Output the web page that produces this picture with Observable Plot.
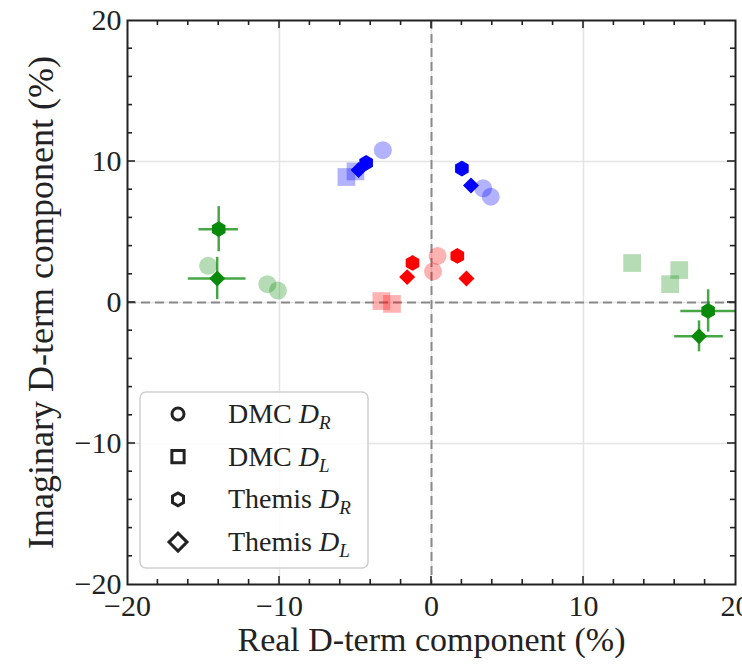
<!DOCTYPE html>
<html><head><meta charset="utf-8">
<script src="https://cdn.jsdelivr.net/npm/d3@7"></script>
<script src="https://cdn.jsdelivr.net/npm/@observablehq/plot@0.6"></script>
<style>body{margin:0;background:#fff}</style>
</head><body><div id="chart"></div>
<script>
// ---- data ----
const stationColors = {blue: "#0000ff", red: "#ff0000", green: "#0a8a0a"};

const dmcDR = [
  {c: "blue", x: -3.2, y: 10.8}, {c: "blue", x: 3.4, y: 8.1}, {c: "blue", x: 3.9, y: 7.5},
  {c: "red", x: 0.4, y: 3.3}, {c: "red", x: 0.1, y: 2.2},
  {c: "green", x: -14.7, y: 2.6}, {c: "green", x: -10.8, y: 1.3}, {c: "green", x: -10.1, y: 0.85}
];
const dmcDL = [
  {c: "blue", x: -5.6, y: 8.9}, {c: "blue", x: -5.0, y: 9.3},
  {c: "red", x: -3.3, y: 0.1}, {c: "red", x: -2.6, y: -0.1},
  {c: "green", x: 13.2, y: 2.8}, {c: "green", x: 16.3, y: 2.3}, {c: "green", x: 15.7, y: 1.3}
];
const themisDR = [
  {c: "blue", x: -4.3, y: 9.9, ex: 0.4, ey: 0.4}, {c: "blue", x: 2.0, y: 9.5, ex: 0.4, ey: 0.5},
  {c: "red", x: -1.25, y: 2.8, ex: 0.4, ey: 0.5}, {c: "red", x: 1.7, y: 3.3, ex: 0.4, ey: 0.4},
  {c: "green", x: -14.0, y: 5.2, ex: 1.3, ey: 1.6}, {c: "green", x: 18.2, y: -0.6, ex: 1.8, ey: 1.5}
];
const themisDL = [
  {c: "blue", x: -4.8, y: 9.4, ex: 0.4, ey: 0.4}, {c: "blue", x: 2.6, y: 8.3, ex: 0.4, ey: 0.4},
  {c: "red", x: -1.6, y: 1.8, ex: 0.4, ey: 0.4}, {c: "red", x: 2.3, y: 1.7, ex: 0.4, ey: 0.4},
  {c: "green", x: -14.1, y: 1.7, ex: 1.9, ey: 1.5}, {c: "green", x: 17.6, y: -2.4, ex: 1.6, ey: 1.1}
];
const xMajor = [-20, -10, 0, 10, 20];
const yMajor = [-20, -10, 0, 10, 20];
const minorTicks = [-18, -16, -14, -12, -8, -6, -4, -2, 2, 4, 6, 8, 12, 14, 16, 18];
const gridTicks = [-10, 0, 10];
const xLabel = "Real D-term component (%)";
const yLabel = "Imaginary D-term component (%)";
const legendItems = [
  {sym: "circle", main: "DMC ", sub: "R"},
  {sym: "square", main: "DMC ", sub: "L"},
  {sym: "hexagon", main: "Themis ", sub: "R"},
  {sym: "diamond", main: "Themis ", sub: "L"}
];

const themisAll = themisDR.concat(themisDL);
const fill = d => stationColors[d.c];
const fmt = d => d < 0 ? "\u2212" + Math.abs(d) : String(d);
const FONT = "'Liberation Serif', 'DejaVu Serif', serif";
const INK = "#222";

const fig = Plot.plot({
  width: 742, height: 667,
  marginLeft: 127, marginRight: 7, marginTop: 20, marginBottom: 83,
  style: {fontFamily: FONT, fontSize: "30px", color: INK, background: "#fff"},
  x: {domain: [-20, 20], ticks: xMajor, tickSize: 0, tickPadding: 10, tickFormat: fmt, label: null},
  y: {domain: [-20, 20], ticks: yMajor, tickSize: 0, tickPadding: 6, tickFormat: fmt, label: null},
  marks: [
    Plot.ruleX(gridTicks, {stroke: "#e4e4e4", strokeWidth: 1.5}),
    Plot.ruleY(gridTicks, {stroke: "#e4e4e4", strokeWidth: 1.5}),
    Plot.ruleX([0], {stroke: "#8a8a8a", strokeWidth: 2, strokeDasharray: "9,5"}),
    Plot.ruleY([0], {stroke: "#8a8a8a", strokeWidth: 2, strokeDasharray: "9,5"}),
    Plot.dot(dmcDR, {x: "x", y: "y", r: 9, symbol: "circle", fill, fillOpacity: 0.3, stroke: null}),
    Plot.dot(dmcDL, {x: "x", y: "y", r: 10, symbol: "square", fill, fillOpacity: 0.3, stroke: null}),
    Plot.ruleY(themisAll, {y: "y", x1: d => d.x - d.ex, x2: d => d.x + d.ex, stroke: fill, strokeWidth: 2.5, strokeOpacity: 0.75}),
    Plot.ruleX(themisAll, {x: "x", y1: d => d.y - d.ey, y2: d => d.y + d.ey, stroke: fill, strokeWidth: 2.5, strokeOpacity: 0.75}),
    Plot.dot(themisDR, {x: "x", y: "y", r: 6.8, symbol: "hexagon", fill, stroke: null}),
    Plot.dot(themisDL, {x: "x", y: "y", r: 7.2, symbol: "diamond2", fill, stroke: null}),
    Plot.frame({stroke: INK, strokeWidth: 2}),
    Plot.text([xLabel], {frameAnchor: "bottom", dy: 66, fontSize: 34, fill: INK, textAnchor: "middle"}),
    Plot.text([yLabel], {frameAnchor: "left", dx: -86, rotate: -90, fontSize: 36, fill: INK, textAnchor: "middle"})
  ]
});

const svg = d3.select(fig);
const sx = fig.scale("x"), sy = fig.scale("y");
const X0 = sx.apply(-20), X1 = sx.apply(20), Y0 = sy.apply(-20), Y1 = sy.apply(20);
const tg = svg.append("g").attr("stroke", INK).attr("stroke-width", 1.6);
const tickSets = [[minorTicks, 5], [xMajor.slice(1, -1), 8]];
for (const [vals, len] of tickSets) {
  for (const v of vals) {
    const px = sx.apply(v), py = sy.apply(v);
    tg.append("line").attr("x1", px).attr("x2", px).attr("y1", Y0).attr("y2", Y0 - len);
    tg.append("line").attr("x1", px).attr("x2", px).attr("y1", Y1).attr("y2", Y1 + len);
    tg.append("line").attr("y1", py).attr("y2", py).attr("x1", X0).attr("x2", X0 + len);
    tg.append("line").attr("y1", py).attr("y2", py).attr("x1", X1).attr("x2", X1 - len);
  }
}

// legend
const lg = svg.append("g").attr("text-anchor", "start");
lg.append("rect").attr("x", 140).attr("y", 392).attr("width", 228).attr("height", 176)
  .attr("rx", 6).attr("fill", "#fff").attr("fill-opacity", 0.85).attr("stroke", "#cfcfcf").attr("stroke-width", 1.5);
const hexPath = r => {
  const ry = r * 1.1547, hy = ry / 2;
  return `M0,${-ry}L${r},${-hy}L${r},${hy}L0,${ry}L${-r},${hy}L${-r},${-hy}Z`;
};
const symPath = {
  circle: d3.symbol(d3.symbolCircle, Math.PI * 36)(),
  square: d3.symbol(d3.symbolSquare, 150)(),
  hexagon: hexPath(5.5),
  diamond: "M0,-9L9,0L0,9L-9,0Z"
};
legendItems.forEach((it, i) => {
  const cy = 414 + i * 42.7;
  lg.append("path").attr("d", symPath[it.sym]).attr("transform", `translate(178,${cy})`)
    .attr("fill", "none").attr("stroke", INK).attr("stroke-width", 3);
  const t = lg.append("text").attr("x", 228).attr("y", cy).attr("dy", "0.32em")
    .attr("text-anchor", "start")
    .attr("font-family", FONT).attr("font-size", 28).attr("fill", INK);
  t.append("tspan").text(it.main);
  t.append("tspan").attr("font-style", "italic").text("D");
  t.append("tspan").attr("font-style", "italic").attr("font-size", 19).attr("dy", 6).text(it.sub);
});

document.getElementById("chart").appendChild(fig);
</script>
</body></html>
